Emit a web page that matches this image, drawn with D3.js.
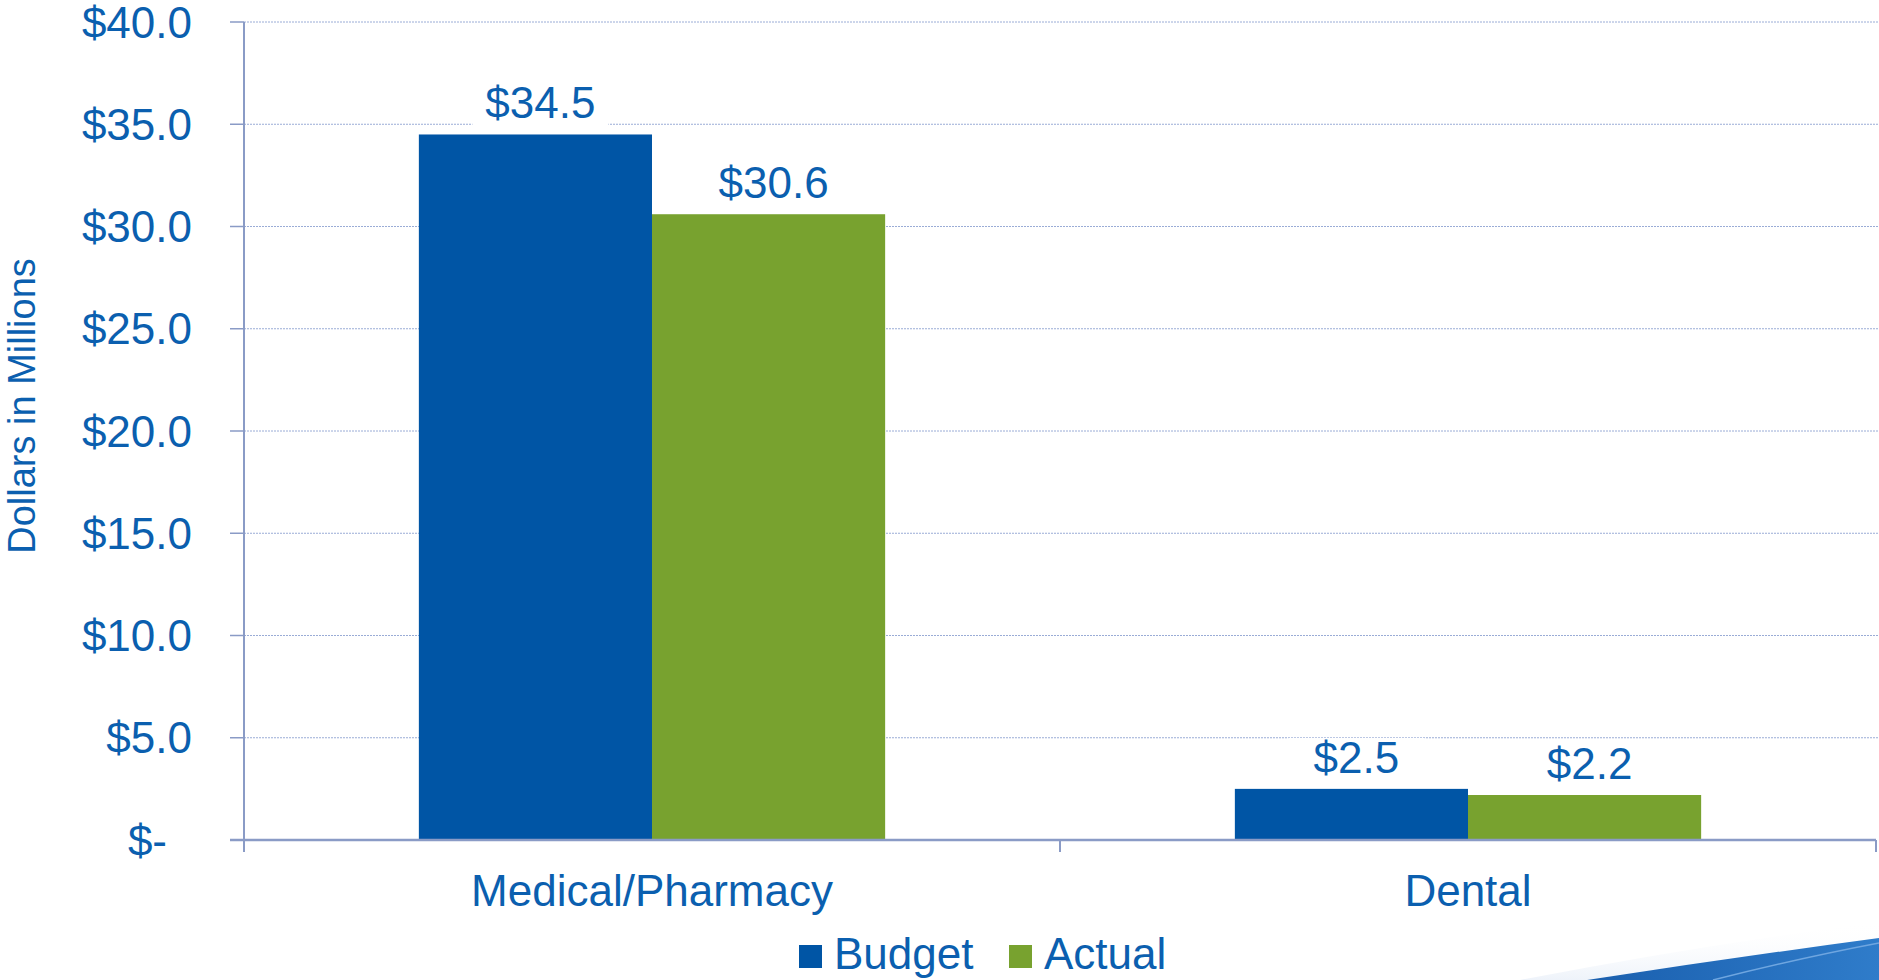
<!DOCTYPE html>
<html>
<head>
<meta charset="utf-8">
<script src="https://cdn.jsdelivr.net/npm/d3@7"></script>
<style>
  html, body { margin: 0; padding: 0; background: #ffffff; }
  svg { display: block; }
  text { font-family: "Liberation Sans", Arial, sans-serif; }
</style>
</head>
<body>
<svg id="chart" width="1879" height="980"></svg>
<script>
// ---- data ----
const categories = ["Medical/Pharmacy", "Dental"];
const seriesNames = ["Budget", "Actual"];
const budgetValues = [34.5, 2.5];
const actualValues = [30.6, 2.2];
const yTickValues = [0, 5, 10, 15, 20, 25, 30, 35, 40];
const yTickLabels = ["$-", "$5.0", "$10.0", "$15.0", "$20.0", "$25.0", "$30.0", "$35.0", "$40.0"];
const valueLabels = { Budget: ["$34.5", "$2.5"], Actual: ["$30.6", "$2.2"] };
const yAxisTitle = "Dollars in Millions";

(function () {
const colors = { Budget: "#0055A5", Actual: "#78A22F" };
const textColor = "#0B5FAF";
const axisColor = "#8A9BC6";
const gridColor = "#9AACD6";

const svg = d3.select("#chart");
const W = 1879;
const mLeft = 244, mRight = 1876, mTop = 22, mBottom = 840;

const y = d3.scaleLinear().domain([0, 40]).range([mBottom, mTop]);
const x0 = d3.scaleBand().domain(categories).range([mLeft, mRight]).paddingInner(0).paddingOuter(0);
const x1 = d3.scaleBand().domain(seriesNames).range([0, x0.bandwidth()]).paddingInner(0).paddingOuter(0.75);

// background swoosh decoration (bottom right)
const defs = svg.append("defs");
const grad = defs.append("linearGradient").attr("id", "sw").attr("x1", "0").attr("x2", "1").attr("y1", "0").attr("y2", "0");
grad.append("stop").attr("offset", "0").attr("stop-color", "#1a5fae");
grad.append("stop").attr("offset", "1").attr("stop-color", "#2f7cca");
const glow = defs.append("linearGradient").attr("id", "gl").attr("x1", "0").attr("x2", "0").attr("y1", "0").attr("y2", "1");
glow.append("stop").attr("offset", "0").attr("stop-color", "#ffffff").attr("stop-opacity", 0);
glow.append("stop").attr("offset", "1").attr("stop-color", "#eef3fa").attr("stop-opacity", 1);
svg.append("path").attr("d", "M1520,980 Q1700,945 1879,922 L1879,940 Q1730,958 1587,980 Z").attr("fill", "url(#gl)");
svg.append("path").attr("d", "M1587,980 Q1730,958 1879,938 L1879,980 Z").attr("fill", "url(#sw)");
svg.append("path").attr("d", "M1713,980 Q1800,958 1879,943").attr("fill", "none").attr("stroke", "#6fa6e0").attr("stroke-width", 1.5);

// gridlines
svg.append("g").selectAll("line").data(yTickValues.filter(d => d > 0)).join("line")
  .attr("x1", mLeft).attr("x2", W)
  .attr("y1", d => y(d)).attr("y2", d => y(d))
  .attr("stroke", gridColor).attr("stroke-width", 1).attr("stroke-dasharray", "2,1");

// y tick marks
svg.append("g").selectAll("line").data(yTickValues).join("line")
  .attr("x1", mLeft - 14).attr("x2", mLeft)
  .attr("y1", d => y(d)).attr("y2", d => y(d))
  .attr("stroke", axisColor).attr("stroke-width", 1.5);

// y tick labels
svg.append("g").selectAll("text").data(yTickValues).join("text")
  .attr("x", d => d === 0 ? 192 - 25 : 192)
  .attr("y", d => y(d) + 15.5)
  .attr("text-anchor", "end")
  .attr("font-size", 44)
  .attr("fill", textColor)
  .text((d, i) => yTickLabels[i]);

// y axis title
svg.append("text")
  .attr("transform", "translate(35,406) rotate(-90)")
  .attr("text-anchor", "middle")
  .attr("font-size", 38)
  .attr("fill", textColor)
  .text(yAxisTitle);

// bars
const rows = categories.map((c, i) => ({ cat: c, Budget: budgetValues[i], Actual: actualValues[i], idx: i }));
const groups = svg.append("g").selectAll("g").data(rows).join("g")
  .attr("transform", d => `translate(${x0(d.cat)},0)`);
groups.selectAll("rect").data(d => seriesNames.map(s => ({ s, v: d[s] }))).join("rect")
  .attr("x", d => x1(d.s))
  .attr("y", d => y(d.v))
  .attr("width", x1.bandwidth())
  .attr("height", d => y(0) - y(d.v))
  .attr("fill", d => colors[d.s]);

// y axis line
svg.append("line").attr("x1", mLeft).attr("x2", mLeft).attr("y1", mTop).attr("y2", mBottom + 12)
  .attr("stroke", axisColor).attr("stroke-width", 2);
// x axis line
svg.append("line").attr("x1", mLeft - 14).attr("x2", mRight).attr("y1", mBottom).attr("y2", mBottom)
  .attr("stroke", axisColor).attr("stroke-width", 2.5);
// category ticks
const catEdges = categories.map(c => x0(c)).concat([x0(categories[categories.length - 1]) + x0.bandwidth()]);
svg.append("g").selectAll("line").data(catEdges).join("line")
  .attr("x1", d => d).attr("x2", d => d).attr("y1", mBottom).attr("y2", mBottom + 12)
  .attr("stroke", axisColor).attr("stroke-width", 2);

// value labels with white background
const labelData = [];
rows.forEach(r => seriesNames.forEach(s => labelData.push({
  x: x0(r.cat) + x1(s) + x1.bandwidth() / 2 + 5,
  y: y(r[s]) - 16,
  t: valueLabels[s][r.idx]
})));
const lg = svg.append("g");
lg.selectAll("rect").data(labelData).join("rect")
  .attr("x", d => d.x - 68).attr("y", d => d.y - 35).attr("width", 136).attr("height", 43)
  .attr("fill", "#ffffff");
lg.selectAll("text").data(labelData).join("text")
  .attr("x", d => d.x).attr("y", d => d.y)
  .attr("text-anchor", "middle").attr("font-size", 44).attr("fill", textColor)
  .text(d => d.t);

// category labels
svg.append("g").selectAll("text").data(categories).join("text")
  .attr("x", d => x0(d) + x0.bandwidth() / 2)
  .attr("y", 906)
  .attr("text-anchor", "middle").attr("font-size", 44).attr("fill", textColor)
  .text(d => d);

// legend
const legendItems = [{ s: "Budget", x: 799 }, { s: "Actual", x: 1009 }];
const leg = svg.append("g");
leg.selectAll("rect").data(legendItems).join("rect")
  .attr("x", d => d.x).attr("y", 945).attr("width", 23).attr("height", 23)
  .attr("fill", d => colors[d.s]);
leg.selectAll("text").data(legendItems).join("text")
  .attr("x", d => d.x + 35).attr("y", 969)
  .attr("font-size", 44).attr("fill", textColor)
  .text(d => d.s);
})();
</script>
</body>
</html>
